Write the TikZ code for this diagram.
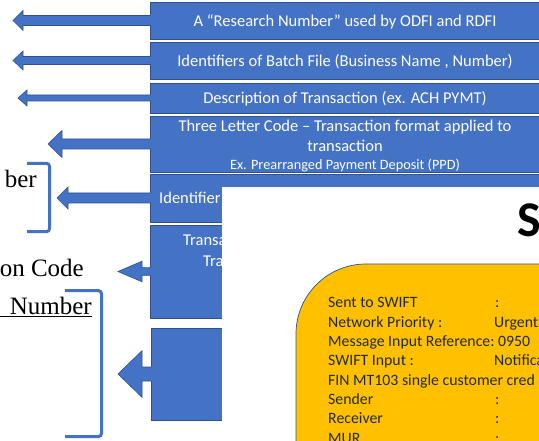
\documentclass[tikz,border=0pt]{standalone}
\usepackage{fontspec}
\setmainfont{Carlito}
\newfontfamily\sideserif{Liberation Serif}
\usetikzlibrary{calc}
\definecolor{bandblue}{HTML}{4472C4}
\definecolor{bandedge}{HTML}{2F528F}
\definecolor{goldfill}{HTML}{FFC000}
\definecolor{inktext}{HTML}{222A35}
\newcommand\blockarrowfrom[5]{%
  \path[fill=bandblue] ($(#1.west)+(0,-#5)$) -- ++(-#2,0) -- ++(0,#5-#4) -- ++(-#3,#4) -- ++(#3,#4) -- ++(0,#5-#4) -- ++(#2+1.2,0) -- ++(0,-2*#5) -- cycle;
  \draw[arrowedge] ($(#1.west)+(0,-#5)$) -- ++(-#2,0) -- ++(0,#5-#4) -- ++(-#3,#4) -- ++(#3,#4) -- ++(0,#5-#4) -- ++(#2,0);
}
\begin{document}
\begin{tikzpicture}[x=1pt,y=-1pt,
  bandbox/.style={fill=bandblue, draw=bandedge, line width=0.6pt, inner sep=0pt, outer sep=0pt, minimum width=392pt, anchor=north west},
  arrowedge/.style={draw=bandedge, line width=0.6pt, line join=miter},
  bandtext/.style={text=white, font=\fontsize{16.5}{20}\selectfont, inner sep=0pt},
  smalltext/.style={text=white, font=\fontsize{14.3}{17}\selectfont, inner sep=0pt},
  bracketline/.style={draw=bandblue, line width=3pt, rounded corners=3pt},
  sidetext/.style={font=\sideserif\fontsize{25}{30}\selectfont, anchor=base east, inner sep=0pt},
  infotext/.style={text=inktext, font=\fontsize{15.8}{19}\selectfont, anchor=base west, inner sep=0pt}
]
\clip (0,0) rectangle (539,441);
\fill[white] (0,0) rectangle (539,441);

% blue bands
\node[bandbox, minimum height=37pt] (b1) at (150,2) {};
\node[bandbox, minimum height=37pt] (b2) at (150,42) {};
\node[bandbox, minimum height=30pt] (b3) at (150,83) {};
\node[bandbox, minimum height=56pt] (b4) at (150,116) {};
\node[bandbox, minimum height=48pt] (b5) at (150,174) {};
\node[bandbox, minimum height=93pt] (b6) at (150,225) {};
\node[bandbox, minimum height=92pt, minimum width=391pt] (b7) at (151,328) {};

% block arrows
\blockarrowfrom{b1}{127}{10}{10}{5}
\blockarrowfrom{b2}{127}{10}{9.5}{4}
\blockarrowfrom{b3}{123}{9}{8}{3}
\blockarrowfrom{b4}{88}{14}{13.5}{5}
\blockarrowfrom{b5}{82}{11}{11}{5}
\blockarrowfrom{b6}{8}{24}{10.3}{3.8}
\blockarrowfrom{b7}{9}{24}{23.3}{7}

% band texts
\node[bandtext, anchor=base] (t1) at (345,26.7) {A “Research Number” used by ODFI and RDFI};
\node[bandtext, anchor=base] (t2) at (345,66.7) {Identifiers of Batch File (Business Name , Number)};
\node[bandtext, anchor=base] (t3) at (345,103.5) {Description of Transaction (ex. ACH PYMT)};
\node[bandtext, anchor=base] (t4a) at (345,131.5) {Three Letter Code – Transaction format applied to};
\node[bandtext, anchor=base] (t4b) at (345,151.5) {transaction};
\node[smalltext, anchor=base] (t4c) at (345,170) {Ex. Prearranged Payment Deposit (PPD)};
\node[bandtext, anchor=base west] (t5) at (159,203.5) {Identifier};
\node[bandtext, anchor=base west] (t6a) at (183,246) {Transa};
\node[bandtext, anchor=base west] (t6b) at (203,267) {Tra};

% pasted screenshot
\node[fill=white, inner sep=0pt, outer sep=0pt, minimum width=320pt, minimum height=260pt, anchor=north west] (shot) at (222,187) {};
\node[font=\bfseries\fontsize{50}{60}\selectfont, anchor=base west, inner sep=0pt] (title) at (517,237) {S};
\draw[fill=goldfill, draw=bandedge, line width=0.7pt, rounded corners=70pt] (296,264) rectangle (620,520);

\node[infotext] (k1) at (328,308) {Sent to SWIFT};
\node[infotext] (v1) at (495,308) {:};
\node[infotext] (k2) at (328,327.3) {Network Priority :};
\node[infotext] (v2) at (494,327.3) {Urgent};
\node[infotext] (k3) at (328,346.6) {Message Input Reference:};
\node[infotext] (v3) at (498,346.6) {0950};
\node[infotext] (k4) at (328,365.9) {SWIFT Input :};
\node[infotext] (v4) at (494,365.9) {Notifica};
\node[infotext] (k5) at (328,385.2) {FIN MT103 single customer cred};
\node[infotext] (k6) at (328,404.5) {Sender};
\node[infotext] (v6) at (495,404.5) {:};
\node[infotext] (k7) at (328,423.8) {Receiver};
\node[infotext] (v7) at (495,423.8) {:};
\node[infotext] (k8) at (328,443.1) {MUR};
\node[infotext] (v8) at (495,443.1) {:};

% left side text and brackets
\node[sidetext] (s1) at (37,188) {ber};
\node[sidetext] (s2) at (84,276.7) {on Code};
\node[sidetext] (s3) at (92,314.5) {Number};
\draw[black, line width=1.2pt] (0,316.8) -- (92,316.8);
\draw[bracketline] (27,163.3) -- (49.5,163.3) -- (49.5,231.7) -- (27,231.7);
\draw[bracketline] (65,290.7) -- (101.5,290.7) -- (101.5,436.5) -- (65,436.5);
\end{tikzpicture}
\end{document}
